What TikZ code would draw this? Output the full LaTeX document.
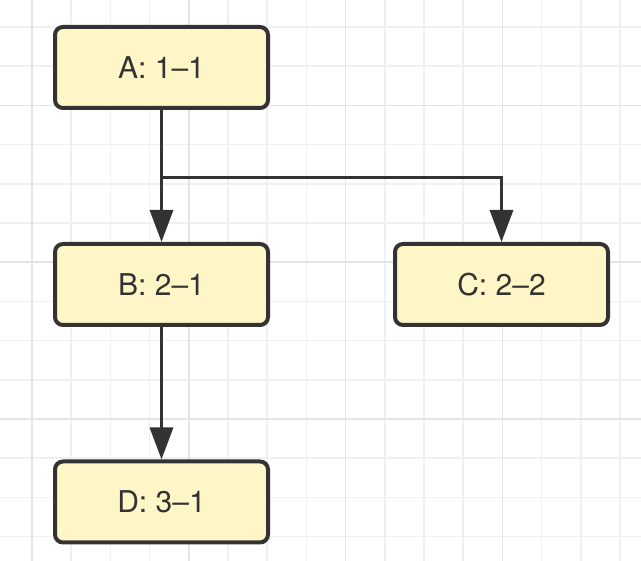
\documentclass[tikz,border=0pt]{standalone}
\usepackage{fontspec}
\setmainfont{TeX Gyre Heros}
\usetikzlibrary{arrows.meta}
\definecolor{gridminor}{RGB}{240,240,240}
\definecolor{gridmajor}{RGB}{228,228,228}
\definecolor{boxfill}{RGB}{255,246,199}
\definecolor{ink}{RGB}{51,51,51}
\tikzset{
  box/.style={draw=ink, fill=boxfill, line width=4pt, rounded corners=8pt,
    minimum width=213pt, minimum height=81pt, inner sep=0pt,
    font=\fontsize{30}{35}\selectfont, text=ink},
  arr/.style={draw=ink, line width=3.2pt, -{Triangle[length=32pt,width=23pt]}}
}
\begin{document}
\begin{tikzpicture}[x=1pt,y=-1pt]
\useasboundingbox (0,0) rectangle (641,561);
\fill[white] (0,0) rectangle (641,561);
% grid
\foreach \k in {0,...,15} {
  \pgfmathsetmacro{\gx}{32+39.2*\k}
  \draw[gridminor, line width=1.5pt] (\gx,0) -- (\gx,561);
}
\foreach \k in {0,...,13} {
  \pgfmathsetmacro{\gy}{27+39.2*\k}
  \draw[gridminor, line width=1.5pt] (0,\gy) -- (641,\gy);
}
\foreach \k in {0,4,8,12} {
  \pgfmathsetmacro{\gx}{32+39.2*\k}
  \draw[gridmajor, line width=1.5pt] (\gx,0) -- (\gx,561);
}
\foreach \k in {2,6,10} {
  \pgfmathsetmacro{\gy}{27+39.2*\k}
  \draw[gridmajor, line width=1.5pt] (0,\gy) -- (641,\gy);
}
% nodes
\node[box] (A) at (161.5,67.5) {A: 1–1};
\node[box] (B) at (161.5,284.5) {B: 2–1};
\node[box] (C) at (501.5,284.5) {C: 2–2};
\node[box] (D) at (161.5,502) {D: 3–1};
\coordinate (j) at (161.5,177.5);
% connectors
\draw[arr] (A.south) -- (B.north);
\draw[arr] (j) -| (C.north);
\draw[arr] (B.south) -- (D.north);
\end{tikzpicture}
\end{document}
